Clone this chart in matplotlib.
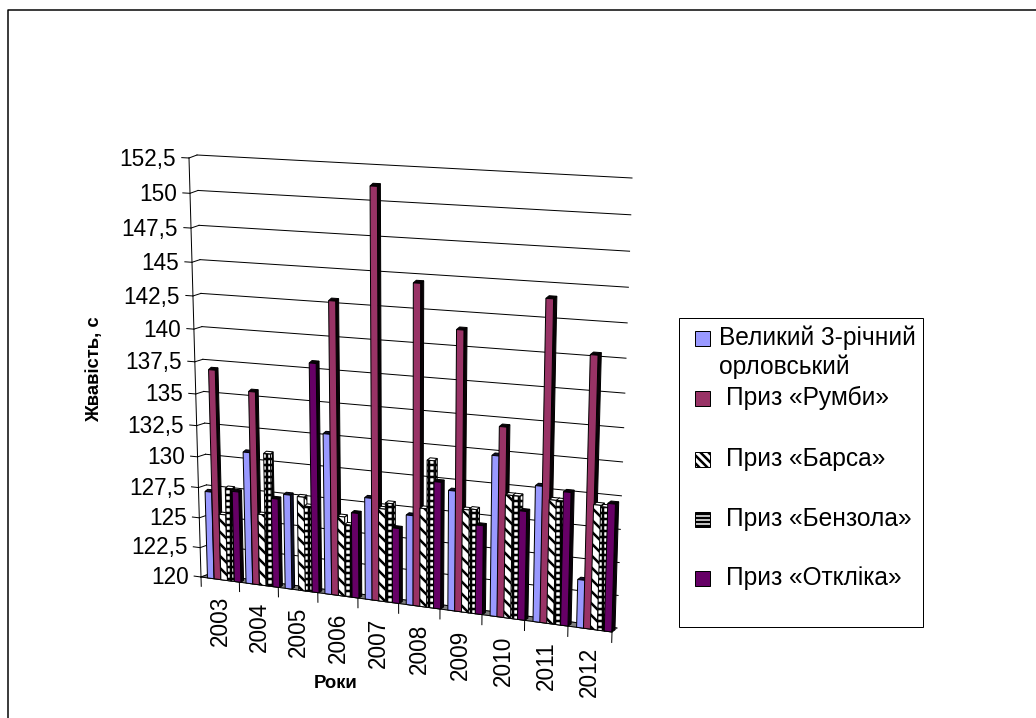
import numpy as np
import matplotlib
matplotlib.use('Agg')
import matplotlib.pyplot as plt
from matplotlib.transforms import Transform
from matplotlib.patches import Rectangle

plt.rcParams['font.family'] = ['Liberation Sans', 'DejaVu Sans']
plt.rcParams['hatch.linewidth'] = 2.5

# Дані
years = ['2003', '2004', '2005', '2006', '2007', '2008', '2009', '2010', '2011', '2012']
velykyi = [127.24, 130.75, 127.69, 132.8, 128.13, 127.12, 129.37, 132.35, 130.4, 123.67]
rumby = [136.98, 135.55, np.nan, 142.85, 151.22, 144.55, 141.4, 134.55, 144.07, 140.3]
barsa = [125.49, 125.86, 127.64, 126.42, 127.39, 127.77, 128.03, 129.48, 129.45, 129.42]
benzol = [127.69, 130.8, 126.94, 125.82, 127.88, 131.52, 128.12, 129.48, 129.45, 129.32]
otklik = [127.49, 127.26, 138.11, 126.82, 125.99, 129.93, 126.94, 128.38, 130.15, 129.62]

y_ticks = [120, 122.5, 125, 127.5, 130, 132.5, 135, 137.5, 140, 142.5, 145, 147.5, 150, 152.5]
y_labels = ['120', '122,5', '125', '127,5', '130', '132,5', '135', '137,5', '140', '142,5', '145',
            '147,5', '150', '152,5']

series = [velykyi, rumby, barsa, benzol, otklik]
names = ['Великий 3-річний\nорловський', 'Приз «Румби»', 'Приз «Барса»', 'Приз «Бензола»', 'Приз «Откліка»']
colors = ['#9999FF', '#993366', 'white', 'white', '#660066']
sides = ['#10102a', '#0a0206', 'white', 'white', '#0a000a']
hatches = [None, None, '\\\\', '++', None]

V_MIN = y_ticks[0]
V_MAX = y_ticks[-1]
N = len(years)
WARP = -1.4


# Перспектива: площина (роки, значення) -> пікселі
class Plane(Transform):
    input_dims = 2
    output_dims = 2

    def __init__(self, bl, br, tr, tl):
        super().__init__()
        src = [(0, V_MIN), (N, V_MIN), (N, V_MAX), (0, V_MAX)]
        a = []
        b = []
        for (x, y), (u, v) in zip(src, [bl, br, tr, tl]):
            a.append([x, y, 1, 0, 0, 0, -u * x, -u * y])
            a.append([0, 0, 0, x, y, 1, -v * x, -v * y])
            b += [u, v]
        self.h = np.append(np.linalg.solve(np.array(a, float), np.array(b, float)), 1).reshape(3, 3)

    def transform_non_affine(self, values):
        values = np.array(values, float)
        t = (values[:, 1] - V_MIN) / (V_MAX - V_MIN)
        values[:, 1] += WARP * t * (1 - t) * (1 - values[:, 0] / N)
        p = np.c_[values, np.ones(len(values))] @ self.h.T
        return p[:, :2] / p[:, 2:]


front = Plane((201, 577), (612, 632), (625, 181), (189, 158))
back = Plane((209, 574), (617, 628), (632, 178), (197, 155))

fig = plt.figure(figsize=(1036 / 72, 718 / 72), dpi=72)
ax = fig.add_axes([0, 0, 1, 1])
ax.set_xlim(0, 1036)
ax.set_ylim(718, 0)
ax.set_autoscale_on(False)
ax.axis('off')

# Рамка (видно тільки зліва і зверху)
ax.plot([7.5, 7.5, 1036], [718, 10, 10], color='black', lw=1.5)

front_t = front + ax.transData
back_t = back + ax.transData

# Підлога
floor = np.r_[front.transform([(0, V_MIN), (N, V_MIN)]), back.transform([(N, V_MIN), (0, V_MIN)])]
ax.fill(floor[:, 0], floor[:, 1], color='#808080', zorder=1)

# Сітка і вісь Y
for v in y_ticks:
    ax.plot(np.linspace(0, N, 30), np.full(30, v), color='black', lw=1, transform=back_t, zorder=1)
    p = np.r_[front.transform([(0, v)]), back.transform([(0, v)])]
    ax.plot(p[:, 0], p[:, 1], color='black', lw=1, zorder=1)
    ax.plot([-0.18, 0], [v, v], color='black', lw=1, transform=front_t, zorder=1)
for v, lab in zip(y_ticks, y_labels):
    ax.text(-0.33, v - 0.15, lab, ha='right', va='center', fontsize=22.5, transform=front_t)
ax.plot(np.zeros(30), np.linspace(V_MIN, V_MAX, 30), color='black', lw=1, transform=front_t, zorder=1)

# Вісь X
ax.plot([0, N], [V_MIN, V_MIN], color='black', lw=1, transform=front_t, zorder=1)
for i in range(N + 1):
    ax.plot([i, i], [V_MIN, V_MIN - 0.8], color='black', lw=1, transform=front_t, zorder=1)
for i, lab in enumerate(years):
    ax.text(i + 0.5, V_MIN - 1.4, lab, rotation=90, ha='center', va='top', fontsize=22.5, transform=front_t)

# Стовпчики
w = 0.17
dx = 0.07
dv = 0.2
for s, vals in enumerate(series):
    vals = np.array(vals, float)
    idx = np.arange(N)
    lefts = idx + 0.17 + 0.003 * idx + (0.175 - 0.002 * idx) * s
    z = 3 + s
    for left, val in zip(lefts, vals):
        if np.isnan(val):
            continue
        # бокова грань і верх
        ax.fill([left + w, left + w + dx, left + w + dx, left + w],
                [V_MIN, V_MIN + dv, val + dv, val],
                facecolor=sides[s], edgecolor='black', lw=1, hatch=hatches[s], transform=front_t, zorder=z)
        ax.fill([left, left + dx, left + w + dx, left + w],
                [val, val + dv, val + dv, val],
                facecolor=sides[s], edgecolor='black', lw=1, transform=front_t, zorder=z)
    ax.bar(lefts, vals - V_MIN, w, bottom=V_MIN, align='edge', color=colors[s], edgecolor='black',
           lw=1, hatch=hatches[s], transform=front_t, zorder=z)

# Підписи осей
ax.text(95, 369, 'Жвавість, с', rotation=90, ha='center', va='center', fontsize=18.5, fontweight='bold')
ax.text(335.5, 683, 'Роки', ha='center', va='center', fontsize=18.5, fontweight='bold')

# Легенда
ax.add_patch(Rectangle((679, 318), 244, 309, facecolor='white', edgecolor='black', lw=1, zorder=9))
legend_y = [338, 398, 459, 519, 578]
legend_hatch = [None, None, '\\\\\\', '---', None]
for i, name in enumerate(names):
    y = legend_y[i]
    ax.add_patch(Rectangle((695, y - 7.5), 15, 15, facecolor=colors[i], edgecolor='black', lw=1,
                           hatch=legend_hatch[i], zorder=10))
    if i == 0:
        ax.text(719, y + 14.5, name, ha='left', va='center', fontsize=24.5, linespacing=1.25, zorder=10)
    else:
        ax.text(726, y, name, ha='left', va='center', fontsize=24.5, zorder=10)

fig.savefig('out.png', dpi=72)
